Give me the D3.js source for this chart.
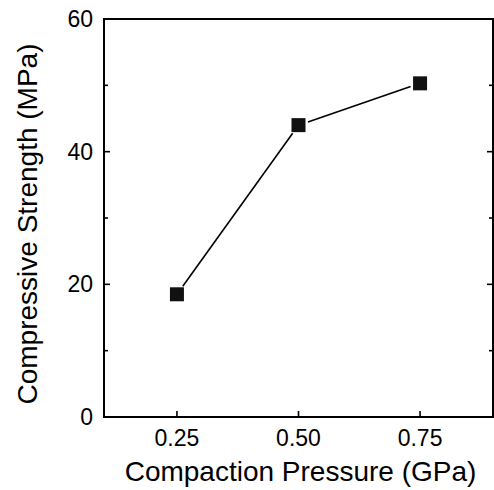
<!DOCTYPE html>
<html>
<head>
<meta charset="utf-8">
<script src="https://cdn.jsdelivr.net/npm/d3@7"></script>
<style>
  body { margin: 0; background: #fff; }
  text { font-family: "Liberation Sans", Arial, sans-serif; fill: #000; }
</style>
</head>
<body>
<div id="chart"></div>
<script>
// data
var pressure = [0.25, 0.50, 0.75]      // GPa
var strength = [18.5, 44.0, 50.3]      // MPa
var xTicks = [0.25, 0.50, 0.75]
var yTicks = [0, 20, 40, 60]
var yMinor = [10, 30, 50]

var width = 494, height = 490
// plot box edges (note: 'top' is taken by window.top, so use other names)
var padL = 104, padR = 493, padT = 19, padB = 417

var svg = d3.select('#chart').append('svg')
  .attr('width', width)
  .attr('height', height)

var x = d3.scaleLinear().domain([0.1, 0.9]).range([padL, padR])
var y = d3.scaleLinear().domain([0, 60]).range([padB, padT])

// ticks, all pointing inward
var g = svg.append('g').attr('stroke', '#000').attr('stroke-width', 1.6)
var allY = yTicks.concat(yMinor)

g.selectAll('.yl').data(allY).enter().append('line')
  .attr('x1', padL).attr('x2', function (d) { return padL + (d % 20 == 0 ? 6 : 4) })
  .attr('y1', function (d) { return y(d) }).attr('y2', function (d) { return y(d) })
g.selectAll('.yr').data(allY).enter().append('line')
  .attr('x1', padR).attr('x2', function (d) { return padR - (d % 20 == 0 ? 6 : 4) })
  .attr('y1', function (d) { return y(d) }).attr('y2', function (d) { return y(d) })
g.selectAll('.xb').data(xTicks).enter().append('line')
  .attr('x1', function (d) { return x(d) }).attr('x2', function (d) { return x(d) })
  .attr('y1', padB).attr('y2', padB - 6)

// frame
svg.append('rect')
  .attr('x', padL).attr('y', padT)
  .attr('width', padR - padL).attr('height', padB - padT)
  .attr('fill', 'none').attr('stroke', '#000').attr('stroke-width', 2)

// tick labels
svg.selectAll('.ylab').data(yTicks).enter().append('text')
  .attr('x', padL - 11).attr('y', function (d) { return y(d) + 8 })
  .attr('text-anchor', 'end').style('font-size', '23px')
  .text(function (d) { return d })

svg.selectAll('.xlab').data(xTicks).enter().append('text')
  .attr('x', function (d) { return x(d) }).attr('y', padB + 29)
  .attr('text-anchor', 'middle').style('font-size', '23px')
  .text(function (d) { return d3.format('.2f')(d) })

// axis titles
svg.append('text')
  .attr('x', (padL + padR) / 2 + 2).attr('y', 481)
  .attr('text-anchor', 'middle').style('font-size', '28px')
  .text('Compaction Pressure (GPa)')

svg.append('text')
  .attr('transform', 'translate(37,' + ((padT + padB) / 2 + 6) + ') rotate(-90)')
  .attr('text-anchor', 'middle').style('font-size', '28px')
  .text('Compressive Strength (MPa)')

// connecting line, broken a little around each marker
var pts = pressure.map(function (p, i) { return [x(p), y(strength[i])] })
var gap = 10
for (var i = 0; i < pts.length - 1; i++) {
  var a = pts[i], b = pts[i + 1]
  var dx = b[0] - a[0], dy = b[1] - a[1]
  var len = Math.sqrt(dx * dx + dy * dy)
  svg.append('line')
    .attr('x1', a[0] + dx / len * gap).attr('y1', a[1] + dy / len * gap)
    .attr('x2', b[0] - dx / len * gap).attr('y2', b[1] - dy / len * gap)
    .attr('stroke', '#000').attr('stroke-width', 1.6)
}

// square markers
var size = 14
svg.selectAll('.pt').data(pts).enter().append('rect')
  .attr('x', function (d) { return d[0] - size / 2 })
  .attr('y', function (d) { return d[1] - size / 2 })
  .attr('width', size).attr('height', size)
  .attr('fill', '#111')
</script>
</body>
</html>
